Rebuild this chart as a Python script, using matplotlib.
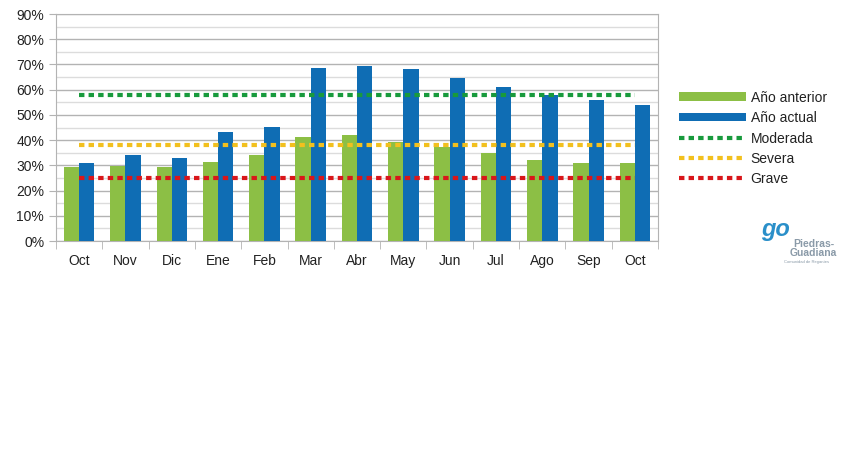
import numpy as np
import matplotlib.pyplot as plt
from matplotlib.ticker import MultipleLocator, FuncFormatter

plt.rcParams['font.family'] = ['Liberation Sans', 'DejaVu Sans']

months = ['Oct', 'Nov', 'Dic', 'Ene', 'Feb', 'Mar', 'Abr', 'May', 'Jun', 'Jul', 'Ago', 'Sep', 'Oct']
anterior = [29.3, 29.9, 29.5, 31.2, 34.1, 41.2, 42.0, 39.1, 37.4, 34.9, 32.1, 30.9, 30.9]
actual = [30.9, 34.1, 32.9, 43.2, 45.2, 68.6, 69.4, 68.2, 64.6, 61.1, 57.9, 55.9, 53.9]
moderada = 57.8
severa = 37.9
grave = 24.9

fig = plt.figure(figsize=(8.45, 4.5), dpi=100)
ax = fig.add_axes([0.0663, 0.4644, 0.7124, 0.5044])

x = np.arange(len(months))
w = 0.33
b1 = ax.bar(x - w / 2, anterior, w, color='#8cbf45', label='Año anterior', zorder=3)
b2 = ax.bar(x + w / 2, actual, w, color='#0f6db4', label='Año actual', zorder=3)

dash = (0, (1.3, 1.0))
l1, = ax.plot([x[0], x[-1]], [moderada] * 2, color='#189a3c', lw=3, ls=dash, label='Moderada', zorder=4)
l2, = ax.plot([x[0], x[-1]], [severa] * 2, color='#f2c01e', lw=3, ls=dash, label='Severa', zorder=4)
l3, = ax.plot([x[0], x[-1]], [grave] * 2, color='#d9161a', lw=3, ls=dash, label='Grave', zorder=4)

ax.set_xlim(-0.5, len(months) - 0.5)
ax.set_ylim(0, 90)
ax.yaxis.set_major_locator(MultipleLocator(10))
ax.yaxis.set_minor_locator(MultipleLocator(5))
ax.yaxis.set_major_formatter(FuncFormatter(lambda v, p: '%d%%' % v))
ax.grid(axis='y', which='major', color='#b3b3b3', lw=1, zorder=0)
ax.grid(axis='y', which='minor', color='#dcdcdc', lw=1, zorder=0)

ax.set_xticks(x)
ax.set_xticklabels(months)
ax.set_xticks(np.arange(len(months) + 1) - 0.5, minor=True)
ax.tick_params(axis='x', which='major', length=0, pad=9, labelsize=10, colors='#222222')
ax.tick_params(axis='x', which='minor', length=6, color='#b3b3b3')
ax.tick_params(axis='y', which='major', length=5, color='#b3b3b3', labelsize=10, labelcolor='#222222')
ax.tick_params(axis='y', which='minor', length=0)
for s in ax.spines.values():
    s.set_color('#b3b3b3')

handles = [b1, b2, l1, l2, l3]
labels = [h.get_label() for h in handles]
leg = fig.legend(handles, labels, loc='upper left', bbox_to_anchor=(0.797, 0.81), frameon=False,
                 fontsize=10, handlelength=4.8, handletextpad=0.35, labelspacing=0.45,
                 borderaxespad=0)
for t in leg.get_texts():
    t.set_color('#222222')
for h in leg.legend_handles[:2]:
    h.set_height(6)
    h.set_y(1)

# logo (approximation)
fig.text(0.918, 0.49, 'go', fontsize=17, color='#2a8fc9', ha='center', va='center',
         style='italic', fontweight='bold')
fig.text(0.963, 0.457, 'Piedras-', fontsize=7.5, color='#8a9aa8', ha='center', va='center',
         fontweight='bold')
fig.text(0.963, 0.437, 'Guadiana', fontsize=7.5, color='#8a9aa8', ha='center', va='center',
         fontweight='bold')
fig.text(0.955, 0.418, 'Comunidad de Regantes', fontsize=3, color='#8a9aa8', ha='center', va='center')

fig.savefig('out.png', dpi=100)
